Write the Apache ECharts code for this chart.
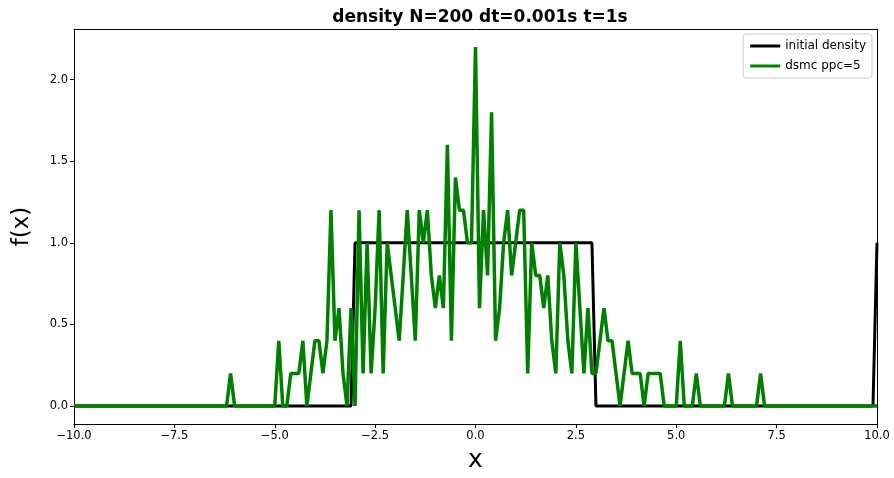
<!DOCTYPE html>
<html>
<head>
<meta charset="utf-8">
<script src="https://cdn.jsdelivr.net/npm/echarts@6/dist/echarts.min.js"></script>
<style>
  html, body { margin: 0; padding: 0; background: #fff; }
  #chart { width: 894px; height: 478px; }
</style>
</head>
<body>
<div id="chart"></div>
<script>
// grid step 0.1 on [-10, 10] -> 201 points
var xStart = -10, xStep = 0.1;

// initial density, corner points of the step
var initX = [-10, -3.1, -3.0, 2.9, 3.0, 9.9, 10];
var initY = [0, 0, 1, 1, 0, 0, 1];

// dsmc ppc=5, one value per grid point
var dsmcY = [
  0,0,0,0,0,0,0,0,0,0, 0,0,0,0,0,0,0,0,0,0,
  0,0,0,0,0,0,0,0,0,0, 0,0,0,0,0,0,0,0,0,0.2,
  0,0,0,0,0,0,0,0,0,0, 0,0.4,0,0,0.2,0.2,0.2,0.4,0,0.2,
  0.4,0.4,0.2,0.4,1.2,0.4,0.6,0.2,0,0.6, 0,1.2,0.2,1.0,0.2,0.6,1.2,0.2,1.0,0.8,
  0.6,0.4,0.8,1.2,0.8,0.4,1.2,1.0,1.2,0.8, 0.6,0.8,0.6,1.6,0.4,1.4,1.2,1.2,1.0,1.0,
  2.2,0.6,1.2,0.8,1.8,0.4,0.6,1.0,1.2,0.8, 1.0,1.2,1.2,0.2,1.0,0.8,0.8,0.6,0.8,0.4,
  0.2,1.0,0.8,0.4,0.2,1.0,0.6,0.2,0.6,0.2, 0.2,0.4,0.6,0.4,0.4,0.2,0,0.2,0.4,0.2,
  0.2,0.2,0,0.2,0.2,0.2,0.2,0,0,0, 0,0.4,0,0,0,0.2,0,0,0,0,
  0,0,0,0.2,0,0,0,0,0,0, 0,0.2,0,0,0,0,0,0,0,0,
  0,0,0,0,0,0,0,0,0,0, 0,0,0,0,0,0,0,0,0,0,
  0
];

var xTicks = [-10, -7.5, -5, -2.5, 0, 2.5, 5, 7.5, 10];
var yTicks = [0, 0.5, 1, 1.5, 2];

var font = 'DejaVu Sans';
function fmt(v){
  var s = v.toFixed(1);
  return v < 0 ? '\u2212' + s.slice(1) : s;
}

var initData = initX.map(function(x, i){ return [x, initY[i]]; });
var dsmcData = dsmcY.map(function(y, i){
  return [+(xStart + i * xStep).toFixed(2), y];
});

var chart = echarts.init(document.getElementById('chart'));
var frameLine = { show: true, onZero: false, lineStyle: { color: '#000', width: 1 } };
var option = {
  animation: false,
  backgroundColor: '#fff',
  title: {
    text: 'density N=200 dt=0.001s t=1s',
    left: 475, top: 4,
    textAlign: 'center',
    textStyle: { fontFamily: font, fontSize: 17, fontWeight: 'bold', color: '#000' }
  },
  legend: {
    orient: 'vertical',
    right: 22, top: 34,
    icon: 'rect',
    itemWidth: 30, itemHeight: 3, itemGap: 8,
    padding: [6, 6, 6, 7],
    borderColor: '#cccccc', borderWidth: 1, borderRadius: 3,
    backgroundColor: '#fff',
    textStyle: { fontFamily: font, fontSize: 12, color: '#000' },
    data: ['initial density', 'dsmc ppc=5']
  },
  grid: { left: 74, right: 17, top: 29, bottom: 48 },
  xAxis: [{
    type: 'value', min: -10, max: 10,
    name: 'x', nameLocation: 'middle', nameGap: 24,
    nameTextStyle: { fontFamily: font, fontSize: 25, color: '#000' },
    axisLine: frameLine,
    axisTick: { show: true, length: 4, customValues: xTicks, lineStyle: { color: '#000' } },
    axisLabel: { customValues: xTicks, formatter: fmt, fontFamily: font, fontSize: 11.5, color: '#000', margin: 6 },
    splitLine: { show: false }
  }, {
    type: 'value', min: -10, max: 10, position: 'top',
    axisLine: frameLine, axisTick: { show: false }, axisLabel: { show: false }, splitLine: { show: false }
  }],
  yAxis: [{
    type: 'value', min: -0.11, max: 2.31,
    name: 'f(x)', nameLocation: 'middle', nameGap: 40, nameRotate: 90,
    nameTextStyle: { fontFamily: font, fontSize: 23, color: '#000' },
    axisLine: frameLine,
    axisTick: { show: true, length: 4, customValues: yTicks, lineStyle: { color: '#000' } },
    axisLabel: { customValues: yTicks, formatter: fmt, fontFamily: font, fontSize: 11.5, color: '#000', margin: 6 },
    splitLine: { show: false }
  }, {
    type: 'value', min: -0.11, max: 2.31, position: 'right',
    axisLine: frameLine, axisTick: { show: false }, axisLabel: { show: false }, splitLine: { show: false }
  }],
  series: [{
    name: 'initial density',
    type: 'line',
    data: initData,
    symbol: 'none',
    color: '#000',
    lineStyle: { color: '#000', width: 3 },
    z: 2
  }, {
    name: 'dsmc ppc=5',
    type: 'line',
    data: dsmcData,
    symbol: 'none',
    color: '#008000',
    lineStyle: { color: '#008000', width: 3.5 },
    z: 3
  }]
};
chart.setOption(option);
</script>
</body>
</html>
